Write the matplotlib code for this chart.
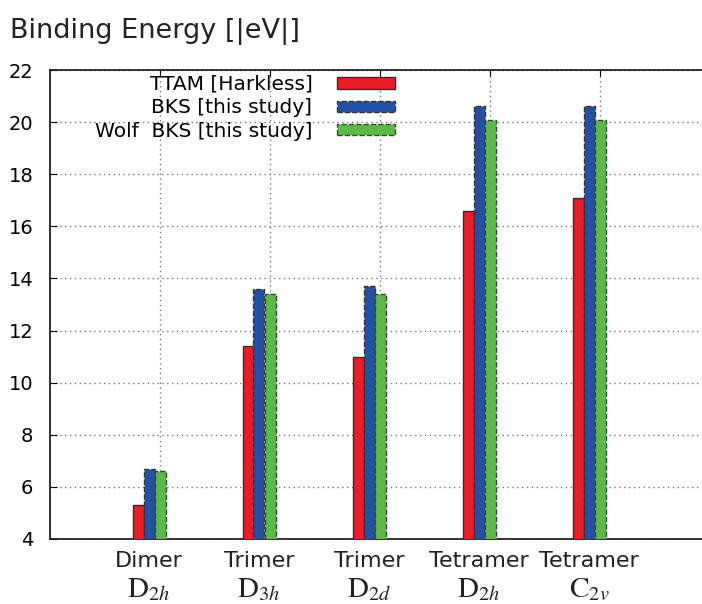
import numpy as np
import matplotlib
matplotlib.use('Agg')
import matplotlib.pyplot as plt
import matplotlib.transforms as mtransforms

plt.rcParams['font.family'] = ['DejaVu Sans']
plt.rcParams['mathtext.fontset'] = 'stix'

# data
categories = ['Dimer', 'Trimer', 'Trimer', 'Tetramer', 'Tetramer']
symmetry = [r'$\mathrm{D}_{\mathit{2h}}$', r'$\mathrm{D}_{\mathit{3h}}$', r'$\mathrm{D}_{\mathit{2d}}$',
            r'$\mathrm{D}_{\mathit{2h}}$', r'$\mathrm{C}_{\mathit{2v}}$']
ttam = [5.3, 11.4, 11.0, 16.6, 17.1]
bks = [6.7, 13.6, 13.7, 20.6, 20.6]
wolf_bks = [6.6, 13.4, 13.4, 20.1, 20.1]
yticks = [4, 6, 8, 10, 12, 14, 16, 18, 20, 22]

x = np.arange(1, len(categories) + 1)
w = 0.1

fig = plt.figure(figsize=(7.02, 6.04), dpi=100)
# axes run off the right edge like the original
ax = fig.add_axes([50/702, 65/604, 660/702, 469/604])

ax.bar(x - 2*w, ttam, w, color='#ED1C24', edgecolor='#3a2a2a', linewidth=1,
       label='TTAM [Harkless]', zorder=3)
ax.bar(x - w, bks, w, color='#2350A5', edgecolor='#333333', linewidth=1, linestyle='--',
       label='BKS [this study]', zorder=3)
ax.bar(x, wolf_bks, w, color='#5CB946', edgecolor='#2f4a2f', linewidth=1, linestyle='--',
       label='Wolf  BKS [this study]', zorder=3)

ax.set_xlim(0, 6)
ax.set_ylim(4, 22)
ax.set_yticks(yticks)
ax.set_xticks(x)
ax.set_xticklabels([])
ax.tick_params(axis='y', direction='in', length=5, labelsize=14, left=True, right=False, pad=12)
ax.tick_params(axis='x', direction='in', length=4, bottom=False, top=True, labelbottom=False)
ax.grid(True, linestyle=(0, (1, 2.5)), color='#777777', linewidth=1, zorder=0)
ax.set_axisbelow(True)
ax.spines['right'].set_visible(False)
for s in ['left', 'top', 'bottom']:
    ax.spines[s].set_linewidth(1.3)
    ax.spines[s].set_color('#222222')

trans = mtransforms.blended_transform_factory(ax.transData, ax.transAxes)
for xi, name, sym in zip(x, categories, symmetry):
    ax.text(xi - w, -28/469, name, transform=trans, ha='center', va='baseline', fontsize=16, color='#222222')
    ax.text(xi - w, -58/469, sym, transform=trans, ha='center', va='baseline', fontsize=21, color='#222222')

fig.text(10/702, 1 - 38/604, 'Binding Energy [|eV|]', fontsize=19.5, color='#222222', va='baseline')

ax.legend(loc='upper right', bbox_to_anchor=(395/702, 1 - 75/604), bbox_transform=fig.transFigure,
          frameon=False, markerfirst=False, fontsize=14.5, handlelength=2.9, handleheight=0.5,
          handletextpad=1.2, labelspacing=0.22, borderpad=0, borderaxespad=0)

fig.savefig('out.png', dpi=100)
